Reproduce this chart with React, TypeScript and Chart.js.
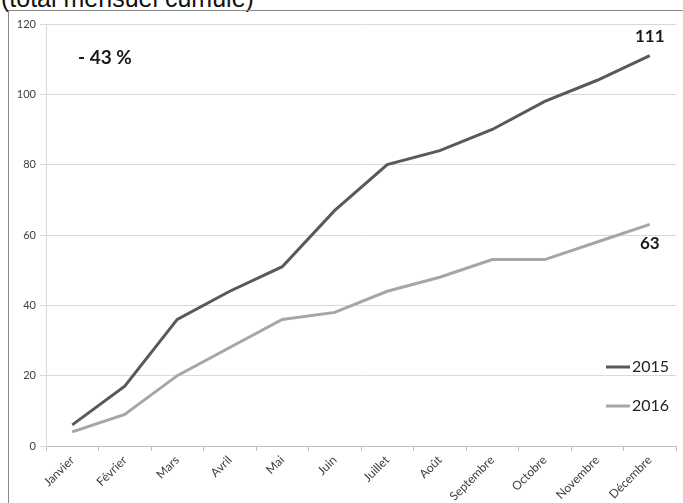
import React, { useEffect, useRef } from "react";
import { Chart, registerables } from "chart.js";

Chart.register(...registerables);

const months = ["Janvier", "Février", "Mars", "Avril", "Mai", "Juin", "Juillet", "Août", "Septembre", "Octobre", "Novembre", "Décembre"];
const series2015 = [6, 17, 36, 44, 51, 67, 80, 84, 90, 98, 104, 111];
const series2016 = [4, 9, 20, 28, 36, 38, 44, 48, 53, 53, 58, 63];
const seriesNames = ["2015", "2016"];
const yMin = 0;
const yMax = 120;
const yStep = 20;
const title = "(total mensuel cumulé)";
const changeLabel = "- 43 %";

const overlay = {
  id: "overlay",
  afterDatasetsDraw(chart: any) {
    const ctx = chart.ctx;
    const area = chart.chartArea;
    ctx.save();
    ctx.fillStyle = "#1a1a1a";
    ctx.textBaseline = "middle";
    ctx.font = "bold 19px Lato";
    ctx.textAlign = "left";
    ctx.fillText(changeLabel, area.left + 32, 58);

    ctx.font = "bold 17px Lato";
    const d0 = chart.getDatasetMeta(0).data;
    const d1 = chart.getDatasetMeta(1).data;
    const p0 = d0[d0.length - 1];
    const p1 = d1[d1.length - 1];
    ctx.textAlign = "center";
    ctx.fillText(String(series2015[series2015.length - 1]), p0.x, p0.y - 19);
    ctx.fillText(String(series2016[series2016.length - 1]), p1.x, p1.y + 19);

    chart.data.datasets.forEach((ds: any, i: number) => {
      const y = 367 + i * 39;
      ctx.strokeStyle = ds.borderColor;
      ctx.lineWidth = 3;
      ctx.beginPath();
      ctx.moveTo(606, y);
      ctx.lineTo(630, y);
      ctx.stroke();
      ctx.font = "16px Lato";
      ctx.fillStyle = "#222";
      ctx.textAlign = "left";
      ctx.fillText(ds.label, 632, y);
    });
    ctx.restore();
  },
};

export default function App() {
  const ref = useRef<HTMLCanvasElement>(null);
  useEffect(() => {
    if (!ref.current) return;
    const chart = new Chart(ref.current, {
      type: "line",
      data: {
        labels: months,
        datasets: [
          { label: seriesNames[0], data: series2015, borderColor: "#595959", borderWidth: 3, pointRadius: 0, tension: 0, fill: false },
          { label: seriesNames[1], data: series2016, borderColor: "#a6a6a6", borderWidth: 3, pointRadius: 0, tension: 0, fill: false },
        ],
      },
      options: {
        animation: false,
        responsive: false,
        devicePixelRatio: 1,
        layout: { padding: { top: 24, right: 7, left: 0, bottom: 0 } },
        plugins: { legend: { display: false }, tooltip: { enabled: false } },
        scales: {
          x: {
            offset: true,
            grid: { offset: true, drawOnChartArea: false, tickLength: 5, color: "#bfbfbf" },
            border: { color: "#bfbfbf" },
            ticks: { maxRotation: 45, minRotation: 45, color: "#404040", padding: 2, font: { size: 12, family: "Lato" } },
            afterFit: (s: any) => { s.height = 57; },
          },
          y: {
            min: yMin,
            max: yMax,
            ticks: { stepSize: yStep, color: "#404040", padding: 4, font: { size: 11, family: "Lato" } },
            grid: { color: "#d9d9d9", tickLength: 6 },
            border: { color: "#d9d9d9" },
            afterFit: (s: any) => { s.width = 46; },
          },
        },
      },
      plugins: [overlay],
    });
    return () => chart.destroy();
  }, []);

  return (
    <div style={{ position: "fixed", left: 0, top: 0, width: 683, height: 503, overflow: "hidden", background: "#fff" }}>
      <div style={{ position: "absolute", left: 1, top: -14, fontFamily: "'Liberation Sans', Arial, sans-serif", fontSize: 25, lineHeight: "25px", color: "#111", whiteSpace: "nowrap" }}>
        {title}
      </div>
      <div style={{ position: "absolute", left: 8, top: 10, width: 700, height: 520, border: "1px solid #8a8a8a" }} />
      <canvas ref={ref} width={683} height={503} style={{ position: "absolute", left: 0, top: 0 }} />
    </div>
  );
}
